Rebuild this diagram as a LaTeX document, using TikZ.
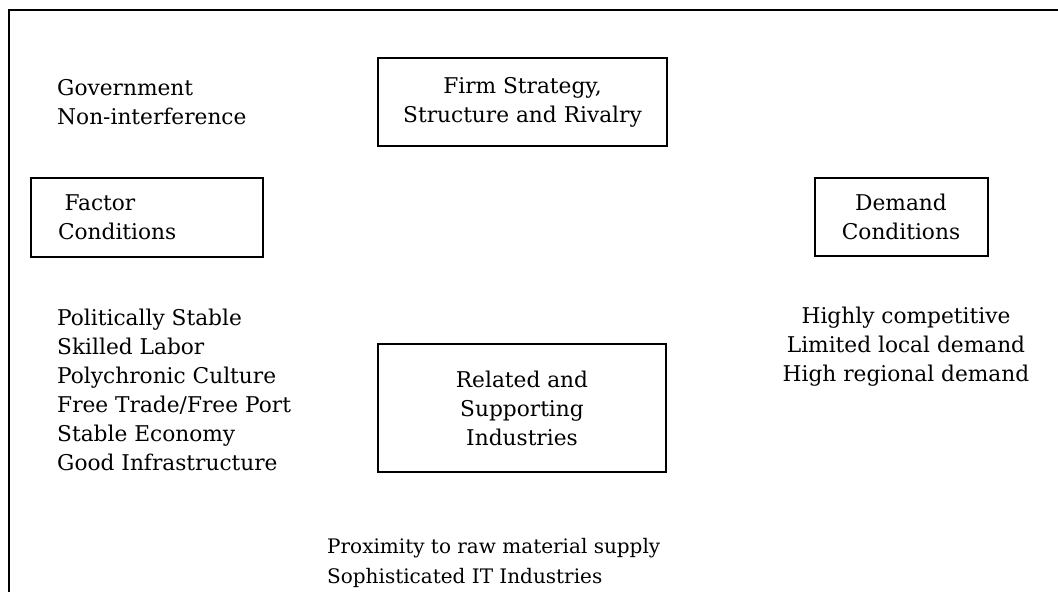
\documentclass[tikz,border=0pt]{standalone}
\usepackage{fontspec}
\setmainfont{DejaVu Serif}
\usetikzlibrary{positioning}
\newcommand{\diamfont}{\fontsize{21.7}{29}\selectfont}
\newcommand{\diamsmall}{\fontsize{20}{30}\selectfont}

\begin{document}
\begin{tikzpicture}[x=1pt, y=-1pt,
  n/.style={draw, line width=2pt, inner sep=0pt, align=center, font=\diamfont},
  t/.style={inner sep=0pt, align=left, font=\diamfont}]
  \useasboundingbox (0,0) rectangle (1058,592);
  \coordinate (tr) at (1058,10);
  \coordinate (tl) at (9,10);
  \coordinate (bl) at (9,592);
  \draw[line width=2.2pt] (tr) -- (tl) -- (bl);
  \node[n, minimum width=289pt, minimum height=88pt] (firm) at (522.5,102) {Firm Strategy,\\ Structure and Rivalry};
  \node[n, inner xsep=27pt, text width=178pt, minimum height=79pt, align=left] (fac) at (147,217.5) {\hspace*{0.3em}Factor\\ Conditions};
  \node[n, minimum width=173pt, minimum height=78pt] (dem) at (901,217) {Demand\\ Conditions};
  \node[n, minimum width=288pt, minimum height=128pt] (rel) at (522,408) {Related and\\ Supporting\\ Industries};
  \node[t, anchor=west] (gov) at (57,102.5) {Government\\ Non-interference};
  \node[t, anchor=west] (facl) at (57,390) {Politically Stable\\ Skilled Labor\\ Polychronic Culture\\ Free Trade/Free Port\\ Stable Economy\\ Good Infrastructure};
  \node[t, align=center] (deml) at (906,347) {Highly competitive\\ Limited local demand\\ High regional demand};
  \node[t, anchor=west, font=\diamsmall] (rell) at (327,563) {Proximity to raw material supply\\ Sophisticated IT Industries};
\end{tikzpicture}
\end{document}
